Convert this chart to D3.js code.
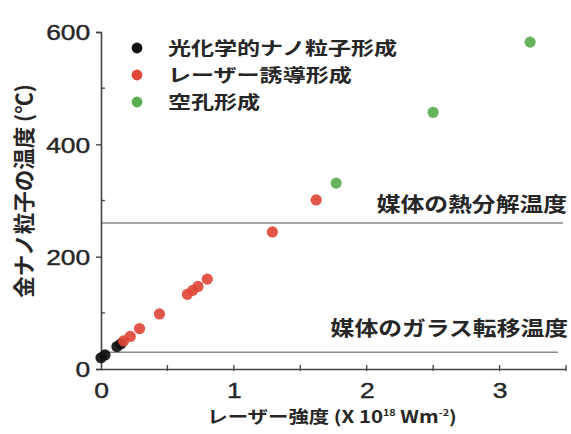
<!DOCTYPE html>
<html><head><meta charset="utf-8">
<script src="https://cdn.jsdelivr.net/npm/d3@7"></script>
<style>body{margin:0;background:#fff;} svg{display:block;}</style>
</head><body>
<svg id="c" width="571" height="434"></svg>
<script>
// Data
const photochemX = [0.00, 0.03, 0.12, 0.15];
const photochemY = [20, 25, 40, 45];
const laserX = [0.17, 0.22, 0.29, 0.44, 0.65, 0.69, 0.73, 0.80, 1.29, 1.62];
const laserY = [50, 58, 72, 98, 133, 140, 147, 160, 244, 301];
const cavityX = [1.77, 2.50, 3.23];
const cavityY = [331, 457, 582];
const legendLabels = ["光化学的ナノ粒子形成", "レーザー誘導形成", "空孔形成"];
const seriesColors = ["#111111", "#e0483a", "#5aad50"];
const refLines = [260, 30];
const refLabels = ["媒体の熱分解温度", "媒体のガラス転移温度"];
const xTicks = [0, 1, 2, 3];
const yTicks = [0, 200, 400, 600];
const xMinor = [0.5, 1, 1.5, 2, 2.5, 3, 3.5];
const yMinor = [100, 300, 500];

const svg = d3.select("#c");
const x = d3.scaleLinear().domain([0, 3.5]).range([101, 566]);
const y = d3.scaleLinear().domain([0, 600]).range([369, 32]);
const axisColor = "#444";
const textColor = "#262626";
const SX = 1.2;
const digitFont = "'Liberation Sans', Arial, sans-serif";
const cjkFont = "'Noto Sans CJK JP', sans-serif";

// reference lines
svg.selectAll(".ref").data(refLines).enter().append("line")
  .attr("x1", x(0)).attr("x2", (d,i) => i === 0 ? 563 : 558)
  .attr("y1", d => y(d)).attr("y2", d => y(d))
  .attr("stroke", "#8a8a8a").attr("stroke-width", 1.5);

// axes
const gx = svg.append("g").attr("transform", `translate(0,${y(0)})`)
  .call(d3.axisBottom(x).tickValues(xTicks).tickSize(0).tickPadding(13).tickFormat(d3.format("d")));
const gy = svg.append("g").attr("transform", `translate(${x(0)},0)`)
  .call(d3.axisLeft(y).tickValues(yTicks).tickSize(5).tickPadding(4));
[gx, gy].forEach(g => {
  g.select(".domain").attr("stroke", axisColor).attr("stroke-width", 1.6);
  g.selectAll("line").attr("stroke", axisColor).attr("stroke-width", 1.4);
  g.selectAll("text").attr("fill", textColor).style("font-family", digitFont).style("font-size", "22px")
    .attr("stroke", textColor).attr("stroke-width", 0.4);
});
gx.selectAll(".tick text").attr("transform", `scale(${SX},1)`);
gy.selectAll(".tick text").attr("transform", `scale(${SX},1)`).attr("dy", "0.36em");

// minor / inner ticks
svg.append("g").selectAll("line").data(xMinor).enter().append("line")
  .attr("x1", d => x(d)).attr("x2", d => x(d))
  .attr("y1", y(0) - 4).attr("y2", y(0) + 2)
  .attr("stroke", axisColor).attr("stroke-width", 1.3);
svg.append("g").selectAll("line").data(yMinor).enter().append("line")
  .attr("x1", x(0)).attr("x2", x(0) + 4)
  .attr("y1", d => y(d)).attr("y2", d => y(d))
  .attr("stroke", axisColor).attr("stroke-width", 1.3);

// points
const series = [
  {xs: photochemX, ys: photochemY, c: seriesColors[0]},
  {xs: laserX, ys: laserY, c: seriesColors[1]},
  {xs: cavityX, ys: cavityY, c: seriesColors[2]}
];
series.forEach(s => {
  svg.append("g").selectAll("circle").data(s.xs.map((v,i)=>[v, s.ys[i]])).enter().append("circle")
    .attr("cx", d => x(d[0])).attr("cy", d => y(d[1])).attr("r", 5.6)
    .attr("fill", s.c).attr("opacity", 0.92);
});

// legend
legendLabels.forEach((t, i) => {
  const ly = 48 + i * 27;
  svg.append("circle").attr("cx", 137).attr("cy", ly).attr("r", 5.4).attr("fill", seriesColors[i]);
  svg.append("text").attr("transform", `translate(168,${ly + 7}) scale(1.28,1)`)
    .style("font-family", cjkFont).style("font-size", "18px").style("font-weight", 600)
    .attr("fill", textColor).text(t);
});

// reference labels
const refPos = [[567, 212], [568, 336]];
refLabels.forEach((t, i) => {
  svg.append("text").attr("transform", `translate(${refPos[i][0]},${refPos[i][1]}) scale(1.19,1)`)
    .attr("text-anchor", "end").style("font-family", cjkFont).style("font-size", "20px").style("font-weight", 600)
    .attr("fill", textColor).text(t);
});

// y title
svg.append("text").attr("transform", "translate(32,191) rotate(-90)")
  .attr("text-anchor", "middle").style("font-family", cjkFont).style("font-size", "21.5px").style("font-weight", 600)
  .attr("fill", textColor).text("金ナノ粒子の温度 (℃)");

// x title
const xt = svg.append("text").attr("transform", "translate(332,423) scale(1.2,1)")
  .attr("text-anchor", "middle").style("font-family", cjkFont).style("font-size", "17px").style("font-weight", 600)
  .attr("fill", textColor);
xt.append("tspan").text("レーザー強度 (X 10");
xt.append("tspan").attr("dy", -7).style("font-size", "9px").text("18");
xt.append("tspan").attr("dy", 7).text(" Wm");
xt.append("tspan").attr("dy", -7).style("font-size", "9px").text("-2");
xt.append("tspan").attr("dy", 7).text(")");
</script>
</body></html>
